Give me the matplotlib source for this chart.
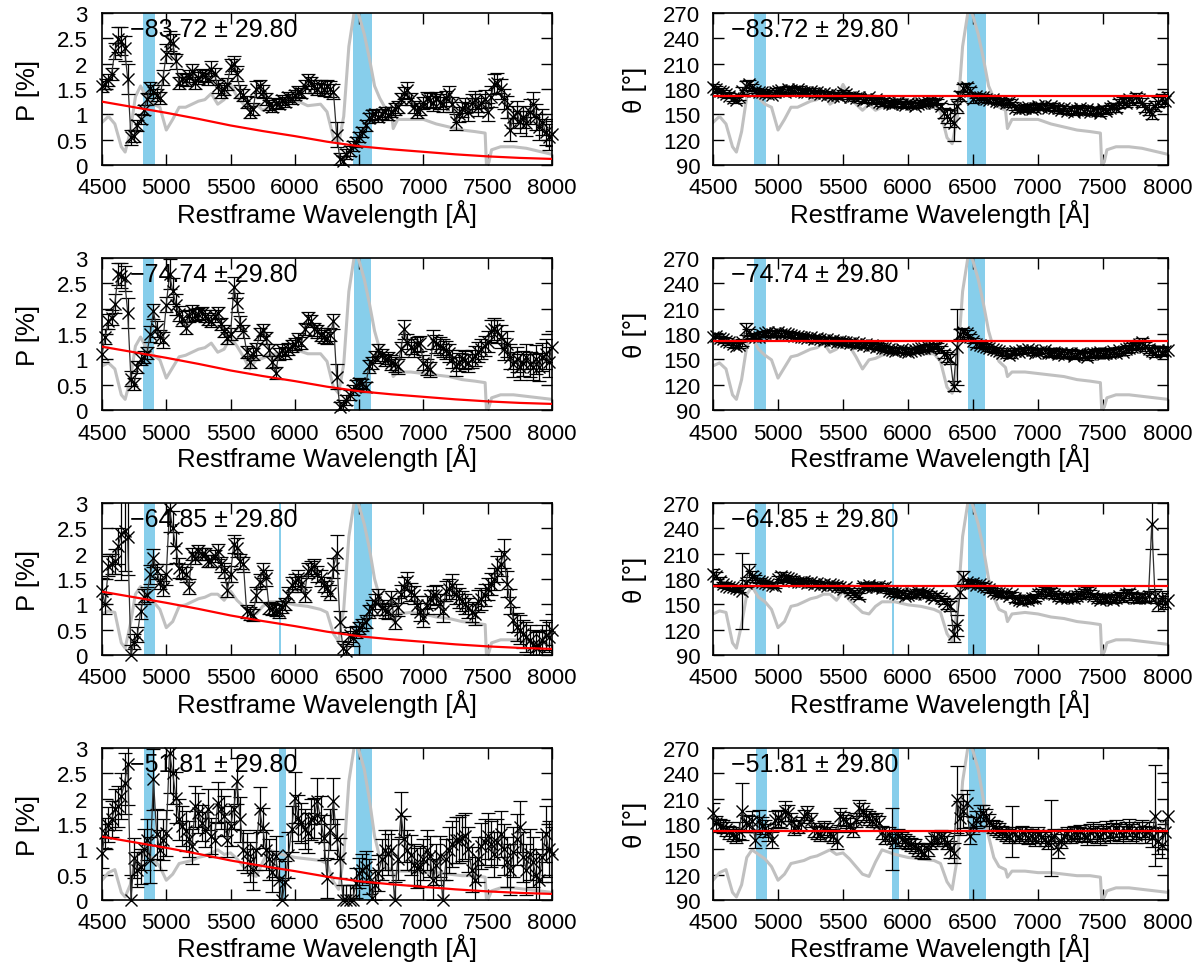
import numpy as np
import matplotlib
matplotlib.use('Agg')
import matplotlib.pyplot as plt

plt.rcParams['font.family'] = ['Liberation Sans', 'DejaVu Sans']

# wavelength bins (25 A)
wave = np.arange(4500, 8001, 25)

# polarisation degree P [%] per epoch
p1 = [1.55,1.60,1.68,1.80,2.25,2.48,2.45,2.30,1.70,0.55,
      0.58,0.78,0.90,1.08,1.30,1.52,1.45,1.38,1.32,1.72,
      2.20,2.45,2.40,2.05,1.62,1.70,1.68,1.75,1.85,1.62,
      1.72,1.78,1.75,1.70,1.90,1.80,1.55,1.45,1.50,1.60,
      1.95,2.00,1.80,1.45,1.38,1.25,1.05,1.10,1.50,1.55,
      1.45,1.30,1.18,1.15,1.22,1.20,1.28,1.25,1.35,1.30,
      1.38,1.45,1.42,1.55,1.68,1.62,1.55,1.50,1.55,1.48,
      1.55,1.50,1.45,0.60,0.12,0.08,0.22,0.28,0.38,0.45,
      0.55,0.65,0.78,0.92,0.98,1.00,0.95,1.00,1.05,0.98,
      1.05,1.10,1.15,1.30,1.42,1.48,1.30,1.15,1.05,1.10,
      1.22,1.30,1.28,1.22,1.30,1.25,1.20,1.32,1.40,1.20,
      0.85,1.00,1.10,1.18,1.05,1.22,1.28,1.15,1.22,1.30,
      1.05,1.35,1.60,1.62,1.50,1.30,1.15,0.70,0.95,1.05,
      0.85,0.95,0.82,1.05,1.20,0.95,0.75,0.85,0.65,0.55,
      0.62]
p1_err = [0.10,0.10,0.12,0.12,0.15,0.25,0.28,0.25,0.30,0.15,
          0.12,0.10,0.10,0.10,0.12,0.12,0.12,0.12,0.12,0.15,
          0.18,0.20,0.18,0.15,0.12,0.12,0.12,0.12,0.15,0.12,
          0.12,0.12,0.12,0.12,0.15,0.12,0.12,0.12,0.12,0.12,
          0.15,0.15,0.15,0.12,0.12,0.12,0.12,0.12,0.15,0.12,
          0.12,0.12,0.10,0.10,0.10,0.10,0.10,0.10,0.10,0.10,
          0.10,0.10,0.10,0.12,0.12,0.12,0.12,0.12,0.12,0.12,
          0.12,0.15,0.15,0.25,0.12,0.10,0.10,0.10,0.10,0.10,
          0.10,0.10,0.10,0.10,0.10,0.10,0.10,0.10,0.10,0.10,
          0.10,0.12,0.12,0.12,0.12,0.15,0.12,0.12,0.12,0.12,
          0.12,0.15,0.15,0.15,0.15,0.15,0.15,0.15,0.15,0.15,
          0.15,0.15,0.15,0.15,0.18,0.18,0.18,0.18,0.18,0.18,
          0.18,0.20,0.20,0.20,0.20,0.20,0.22,0.22,0.22,0.22,
          0.22,0.22,0.25,0.25,0.25,0.25,0.25,0.25,0.25,0.25,
          0.25]

p2 = [1.10,1.45,1.75,1.82,2.10,2.68,2.65,2.60,1.92,0.62,
      0.52,0.85,1.00,1.05,1.12,1.50,1.95,1.60,1.45,1.38,
      2.08,2.68,2.35,2.08,1.90,1.80,1.62,1.85,1.95,1.88,
      1.90,1.92,1.85,1.80,1.75,1.85,1.92,1.70,1.56,1.42,
      1.50,2.42,2.12,1.70,1.55,1.15,0.95,1.10,1.20,1.50,
      1.58,1.42,1.18,0.95,0.73,1.10,1.18,1.12,1.20,1.26,
      1.30,1.39,1.32,1.60,1.82,1.75,1.59,1.55,1.49,1.45,
      1.42,1.49,1.75,0.66,0.05,0.10,0.20,0.30,0.40,0.50,
      0.53,0.52,0.46,0.86,0.93,1.05,1.19,1.08,0.99,1.02,
      0.93,0.90,0.86,1.20,1.59,1.35,1.25,1.19,1.30,1.32,
      0.93,0.85,0.80,1.39,1.30,1.26,1.22,1.19,1.13,1.00,
      0.86,0.95,1.00,0.98,0.93,1.00,1.06,1.15,1.20,1.26,
      1.35,1.56,1.60,1.55,1.45,1.20,1.30,1.05,0.90,1.00,
      0.85,0.92,1.05,0.90,0.85,1.00,0.85,1.05,1.10,0.95,
      1.25]
p2_err = [0.15,0.15,0.15,0.15,0.18,0.22,0.25,0.25,0.30,0.15,
          0.12,0.12,0.12,0.12,0.12,0.15,0.15,0.15,0.12,0.15,
          0.15,0.30,0.25,0.20,0.15,0.15,0.12,0.12,0.12,0.12,
          0.12,0.12,0.12,0.12,0.12,0.12,0.12,0.12,0.12,0.12,
          0.12,0.20,0.18,0.15,0.12,0.12,0.12,0.12,0.12,0.12,
          0.12,0.12,0.12,0.12,0.12,0.12,0.12,0.12,0.12,0.12,
          0.12,0.12,0.12,0.12,0.12,0.12,0.12,0.12,0.12,0.12,
          0.12,0.12,0.15,0.25,0.10,0.10,0.10,0.10,0.10,0.10,
          0.10,0.10,0.10,0.12,0.12,0.12,0.12,0.12,0.12,0.12,
          0.15,0.15,0.15,0.15,0.18,0.15,0.15,0.15,0.15,0.15,
          0.15,0.15,0.15,0.18,0.18,0.18,0.18,0.18,0.18,0.18,
          0.18,0.18,0.18,0.18,0.18,0.18,0.20,0.20,0.20,0.20,
          0.20,0.22,0.22,0.22,0.22,0.22,0.25,0.25,0.25,0.25,
          0.25,0.25,0.25,0.25,0.25,0.28,0.28,0.28,0.30,0.30,
          0.30]

p3 = [1.26,1.00,1.75,1.80,1.85,2.15,2.38,2.45,2.32,0.00,
      0.26,0.40,0.86,1.15,1.19,1.59,1.92,1.65,1.45,1.32,
      1.59,2.88,2.50,2.12,1.72,1.65,1.59,1.35,1.99,1.92,
      2.05,2.00,1.99,1.85,1.85,1.95,2.05,1.79,1.66,1.29,
      1.60,2.19,2.12,1.85,1.79,0.86,0.82,0.79,1.19,1.45,
      1.66,1.52,0.93,0.90,0.88,0.86,0.95,1.00,1.19,1.39,
      1.45,1.52,1.40,1.19,1.66,1.70,1.75,1.60,1.52,1.39,
      1.32,1.23,1.72,2.02,0.66,0.13,0.07,0.40,0.33,0.45,
      0.53,0.60,0.66,0.86,0.93,1.05,1.16,0.93,0.88,0.86,
      1.12,0.66,0.95,1.20,1.35,1.46,1.25,1.19,0.99,0.85,
      0.73,0.99,1.10,1.19,1.19,1.00,0.86,1.26,1.30,1.39,
      1.20,1.12,1.06,1.00,0.93,0.85,0.80,1.06,1.10,1.19,
      1.30,1.40,1.50,1.70,1.80,2.00,1.40,1.05,0.70,0.55,
      0.50,0.42,0.35,0.30,0.20,0.15,0.18,0.30,0.40,0.35,
      0.50]
p3_err = [0.25,0.20,0.20,0.20,0.25,0.35,0.90,0.80,0.75,0.20,
          0.15,0.15,0.15,0.15,0.15,0.18,0.18,0.15,0.15,0.15,
          0.20,0.45,0.35,0.30,0.20,0.15,0.15,0.15,0.12,0.12,
          0.12,0.12,0.12,0.12,0.12,0.12,0.15,0.15,0.15,0.15,
          0.15,0.18,0.18,0.15,0.15,0.12,0.12,0.12,0.15,0.15,
          0.15,0.15,0.12,0.12,0.12,0.12,0.12,0.12,0.15,0.15,
          0.15,0.15,0.15,0.15,0.15,0.15,0.15,0.15,0.15,0.15,
          0.15,0.15,0.20,0.35,0.20,0.15,0.15,0.15,0.15,0.12,
          0.12,0.12,0.12,0.12,0.15,0.15,0.15,0.15,0.15,0.15,
          0.15,0.15,0.18,0.18,0.18,0.18,0.18,0.18,0.18,0.18,
          0.18,0.18,0.18,0.18,0.20,0.20,0.20,0.20,0.20,0.20,
          0.20,0.20,0.20,0.20,0.20,0.20,0.20,0.22,0.22,0.22,
          0.22,0.22,0.22,0.25,0.25,0.28,0.25,0.25,0.25,0.28,
          0.28,0.28,0.30,0.30,0.30,0.30,0.30,0.30,0.30,0.30,
          0.30]

p4 = [0.93,1.32,1.49,1.60,1.79,1.85,2.05,2.30,2.68,0.00,
      0.83,0.60,0.66,1.00,1.19,0.79,2.38,1.30,0.99,1.19,
      1.32,2.91,2.50,2.02,1.59,1.46,1.36,1.20,1.06,1.85,
      1.72,1.52,1.39,1.79,1.26,1.19,1.92,1.80,1.66,1.19,
      1.46,1.80,2.35,1.59,0.99,0.93,0.75,0.60,0.99,1.79,
      1.42,0.99,0.80,0.56,0.86,0.40,0.00,0.36,0.89,1.40,
      2.02,1.62,1.52,1.40,1.32,1.59,1.62,1.95,1.60,1.23,
      0.43,1.39,1.95,1.20,0.83,0.00,0.00,0.00,0.00,0.33,
      0.53,0.60,0.66,0.46,0.03,0.30,0.53,0.80,0.99,0.90,
      0.99,0.00,0.80,1.69,1.20,0.99,0.89,0.70,0.63,0.66,
      0.80,0.99,0.86,0.40,0.70,0.86,0.00,0.80,0.99,1.10,
      1.19,1.19,1.22,1.26,1.00,0.60,0.40,0.80,1.06,1.15,
      1.26,1.10,0.90,1.15,1.30,1.00,0.75,0.60,0.95,1.20,
      1.45,0.85,0.60,0.90,0.75,0.50,0.40,0.85,1.30,1.00,
      0.90]
p4_err = [0.30,0.30,0.35,0.35,0.40,0.40,0.45,0.60,0.80,0.50,
          0.40,0.35,0.35,0.40,0.40,0.45,0.60,0.50,0.40,0.40,
          0.45,0.80,0.60,0.50,0.40,0.40,0.40,0.35,0.35,0.40,
          0.40,0.35,0.35,0.40,0.35,0.35,0.40,0.40,0.40,0.35,
          0.40,0.40,0.45,0.45,0.40,0.40,0.40,0.40,0.40,0.45,
          0.40,0.40,0.40,0.40,0.40,0.40,0.40,0.40,0.45,0.45,
          0.50,0.45,0.40,0.40,0.40,0.40,0.40,0.45,0.45,0.45,
          0.40,0.40,0.45,0.40,0.40,0.30,0.30,0.30,0.30,0.30,
          0.30,0.30,0.30,0.35,0.30,0.30,0.35,0.40,0.40,0.40,
          0.40,0.35,0.40,0.45,0.45,0.40,0.40,0.40,0.40,0.40,
          0.40,0.40,0.40,0.40,0.40,0.40,0.40,0.40,0.45,0.45,
          0.45,0.45,0.45,0.45,0.45,0.45,0.45,0.45,0.45,0.45,
          0.45,0.45,0.45,0.45,0.45,0.50,0.50,0.50,0.50,0.50,
          0.50,0.50,0.50,0.50,0.50,0.50,0.50,0.50,0.55,0.55,
          0.55]

# polarisation angle theta [deg] per epoch
t1 = [182,180,178,176,174,172,169,167,170,178,
      184,186,182,178,176,177,175,174,173,176,
      178,179,177,180,179,178,180,178,177,176,
      178,175,176,174,175,173,174,172,173,171,
      176,174,171,172,169,171,167,168,170,166,
      168,165,163,166,164,162,163,165,162,161,
      163,162,160,162,164,163,165,166,164,165,
      160,152,148,145,140,160,172,181,182,178,
      168,172,170,171,168,167,168,166,165,166,
      164,165,162,158,156,158,157,159,156,158,
      160,159,161,158,160,157,158,155,157,154,
      156,153,155,157,154,156,153,155,154,152,
      156,154,157,160,158,163,166,164,168,166,
      170,168,164,158,155,150,160,165,168,166,
      170]
t1_err = [4,3,3,3,3,3,3,3,3,4,
          5,5,4,3,3,3,3,3,3,3,
          3,3,3,3,3,3,3,3,3,3,
          3,3,3,3,3,3,3,3,3,3,
          3,3,3,3,3,3,3,3,3,3,
          3,3,3,3,3,3,3,3,3,3,
          3,3,3,3,3,3,3,3,3,3,
          4,6,8,10,22,8,6,5,5,4,
          4,3,3,3,3,3,3,3,3,3,
          3,3,3,3,3,3,3,3,3,3,
          3,3,3,3,3,3,3,3,3,4,
          4,4,4,4,4,4,4,4,4,4,
          4,4,4,4,5,5,5,5,5,5,
          5,5,5,5,6,6,6,6,6,6,
          6]

t2 = [176,178,175,174,172,170,168,166,167,170,
      186,182,178,177,176,179,181,182,180,181,
      182,180,181,180,179,178,178,177,176,175,
      176,174,175,174,173,174,172,173,171,172,
      170,171,169,170,168,169,167,168,166,167,
      165,166,164,163,162,161,160,161,162,160,
      159,160,161,162,163,164,165,163,165,166,
      162,156,153,150,118,165,180,182,181,176,
      172,168,167,166,165,163,162,161,160,158,
      157,155,158,160,159,161,160,162,161,158,
      159,160,161,158,157,159,156,158,155,157,
      158,154,156,157,155,153,156,158,157,159,
      156,158,157,160,158,161,159,162,163,165,
      166,168,170,165,162,160,158,161,159,160,
      161]
t2_err = [4,3,3,3,3,3,3,3,3,4,
          7,4,3,3,3,3,3,3,3,3,
          3,3,3,3,3,3,3,3,3,3,
          3,3,3,3,3,3,3,3,3,3,
          3,3,3,3,3,3,3,3,3,3,
          3,3,3,3,3,3,3,3,3,3,
          3,3,3,3,3,3,3,3,3,3,
          4,5,6,6,6,45,6,5,4,4,
          3,3,3,3,3,3,3,3,3,3,
          3,3,3,3,3,3,3,3,3,3,
          3,3,3,4,4,4,4,4,4,4,
          4,4,4,4,4,4,4,4,4,4,
          4,4,4,4,4,4,4,4,4,4,
          4,5,5,5,5,5,5,5,5,5,
          5]

t3 = [186,184,178,174,172,171,170,169,168,166,
      175,190,184,181,178,176,175,174,173,172,
      180,184,182,181,180,178,177,176,178,175,
      176,174,175,173,174,172,174,173,172,170,
      168,170,166,164,162,160,172,171,173,170,
      171,172,169,170,166,165,163,162,164,160,
      161,163,162,165,164,162,163,160,158,161,
      157,154,150,148,115,125,165,182,176,174,
      175,173,174,172,170,168,166,164,163,162,
      163,160,162,157,155,154,156,155,157,158,
      162,164,166,164,165,162,160,158,160,157,
      159,158,160,162,164,166,163,160,158,155,
      157,156,158,155,157,160,158,162,163,160,
      158,157,159,158,160,245,160,150,158,152,
      155]
t3_err = [6,4,4,3,3,3,3,3,3,45,
          4,8,5,4,3,3,3,3,3,3,
          4,4,3,3,3,3,3,3,3,3,
          3,3,3,3,3,3,3,3,3,3,
          3,3,3,3,3,4,3,3,3,3,
          3,3,3,3,3,3,3,3,3,3,
          3,3,3,3,3,3,3,3,3,3,
          3,4,6,6,10,12,8,8,4,4,
          4,3,3,3,3,3,3,3,3,3,
          3,3,3,4,4,4,4,4,4,4,
          4,4,4,4,4,4,4,4,4,4,
          4,4,4,4,4,4,4,4,4,4,
          4,4,4,4,4,5,5,5,5,5,
          5,5,5,5,6,30,8,8,8,8,
          8]

t4 = [193,181,178,177,174,170,168,166,172,195,
      181,180,183,161,185,178,175,170,161,185,
      187,185,195,193,183,175,177,180,189,193,
      185,173,170,168,175,173,168,166,160,189,
      186,183,179,173,185,199,195,190,187,184,
      185,181,170,164,168,162,160,166,162,160,
      158,156,154,150,148,146,150,158,164,162,
      165,162,158,150,146,209,187,195,205,166,
      178,185,190,193,188,182,177,175,173,170,
      168,166,171,168,165,170,168,164,166,162,
      168,165,162,158,163,166,150,160,166,168,
      165,170,168,171,167,165,170,172,168,165,
      170,173,168,171,175,170,168,172,176,170,
      167,172,175,168,172,165,190,160,155,170,
      190]
t4_err = [12,8,8,8,8,8,8,8,10,34,
          10,10,12,10,12,10,10,10,10,10,
          10,10,12,10,10,8,8,8,8,8,
          8,8,8,8,8,8,8,8,10,10,
          8,8,8,8,8,10,10,8,8,8,
          8,8,8,8,8,37,8,8,8,8,
          8,8,8,8,8,8,8,8,8,8,
          8,8,8,10,12,40,20,20,15,10,
          10,10,12,10,10,10,8,8,8,8,
          8,8,30,8,8,8,8,8,8,8,
          8,8,8,8,45,8,10,8,8,8,
          8,8,8,8,8,10,10,10,10,10,
          10,10,10,10,10,10,10,10,10,10,
          10,10,10,10,10,12,60,15,15,15,
          40]

# scaled flux spectrum (fraction of the axis height) per epoch
gray_wave = [4500,4550,4600,4650,4680,4720,4760,4800,4850,4900,4950,5000,5050,5100,
             5150,5200,5250,5300,5350,5400,5450,5500,5550,5600,5650,5700,5750,5800,
             5900,6000,6100,6200,6250,6300,6340,6380,6420,6460,6480,6500,6540,6580,
             6620,6660,6700,6750,6765,6800,6900,7000,7100,7200,7300,7400,7480,7490,
             7510,7530,7600,7700,7800,7900,8000]
gray1 = [.28,.32,.27,.12,.085,.22,.45,.52,.44,.40,.38,.23,.30,.38,
         .38,.40,.42,.43,.47,.40,.43,.53,.45,.40,.36,.40,.36,.38,
         .41,.43,.39,.40,.35,.18,.14,.32,.78,1.0,1.02,.98,.86,.70,
         .52,.44,.38,.36,.24,.30,.30,.30,.27,.25,.23,.22,.21,.0,
         .02,.10,.12,.12,.11,.09,.07]
gray2 = [.29,.31,.27,.10,.07,.20,.42,.48,.40,.36,.33,.21,.28,.35,
         .36,.38,.40,.41,.44,.38,.40,.48,.42,.35,.27,.33,.34,.36,
         .38,.40,.37,.37,.32,.15,.11,.30,.78,1.0,1.02,.98,.86,.70,
         .52,.40,.32,.28,.22,.25,.25,.24,.23,.22,.20,.19,.18,.0,
         .02,.08,.10,.10,.09,.08,.07]
gray3 = [.27,.29,.28,.08,.045,.20,.40,.45,.38,.35,.30,.18,.22,.32,
         .33,.35,.37,.38,.40,.40,.36,.42,.36,.32,.28,.27,.32,.35,
         .35,.33,.32,.30,.28,.14,.09,.30,.78,1.0,1.02,.98,.86,.70,
         .50,.38,.30,.28,.22,.27,.28,.27,.25,.24,.22,.21,.20,.0,
         .02,.08,.10,.10,.09,.08,.07]
gray4 = [.13,.18,.20,.05,.02,.10,.28,.33,.30,.27,.22,.13,.17,.24,
         .25,.26,.28,.29,.31,.33,.30,.31,.27,.22,.17,.155,.25,.33,
         .30,.28,.27,.26,.24,.12,.07,.28,.78,1.0,1.02,.98,.86,.66,
         .42,.28,.22,.20,.15,.19,.19,.18,.18,.17,.16,.16,.15,.0,
         .02,.06,.08,.08,.07,.06,.05]

# interstellar polarisation model
isp_wave = [4500,4750,5000,5250,5500,5750,6000,6250,6500,6750,7000,7250,7500,7750,8000]
isp_p = [1.25,1.14,1.03,0.91,0.78,0.67,0.57,0.46,0.37,0.31,0.26,0.21,0.17,0.14,0.12]
isp_theta = 172

# masked line regions per epoch
bands = [[(4815, 4910), (6455, 6600)],
         [(4815, 4905), (6460, 6595)],
         [(4825, 4910), (5880, 5893), (6462, 6598)],
         [(4830, 4912), (5878, 5933), (6472, 6597)]]

labels = ['\u221283.72 \u00b1 29.80', '\u221274.74 \u00b1 29.80',
          '\u221264.85 \u00b1 29.80', '\u221251.81 \u00b1 29.80']

p_all = [p1, p2, p3, p4]
perr_all = [p1_err, p2_err, p3_err, p4_err]
t_all = [t1, t2, t3, t4]
terr_all = [t1_err, t2_err, t3_err, t4_err]
gray_all = [gray1, gray2, gray3, gray4]


def panel(ax, vals, errs, gray, lo, hi, model_x, model_y, bnds, label, tx):
    for a, b in bnds:
        ax.axvspan(a, b, color='#87ceeb', lw=0, zorder=1)
    ax.plot(gray_wave, lo + np.array(gray) * (hi - lo), color='#c0c0c0', lw=2.2, zorder=2)
    ax.errorbar(wave, vals, yerr=errs, fmt='none', ecolor='black', elinewidth=0.9,
                capsize=5, capthick=0.9, zorder=3)
    ax.plot(wave, vals, color='#303030', lw=0.9, zorder=3)
    ax.plot(wave, vals, 'x', color='black', ms=9, mew=1.0, zorder=4, clip_on=False)
    ax.plot(model_x, model_y, color='red', lw=1.6, zorder=5)
    ax.set_xlim(4500, 8000)
    ax.set_ylim(lo, hi)
    ax.set_xticks(range(4500, 8001, 500))
    ax.tick_params(direction='in', top=True, right=True, length=8, width=1,
                   labelsize=16)
    ax.tick_params(axis='x', pad=9)
    for s in ax.spines.values():
        s.set_linewidth(1.2)
    ax.set_xlabel('Restframe Wavelength [\u00c5]', fontsize=18.5, labelpad=0)
    ax.text(tx, 0.895, label, transform=ax.transAxes, fontsize=18, va='center',
            ha='left', zorder=6)


fig = plt.figure(figsize=(12, 9.7), dpi=100)
rows_top = [14, 259, 504, 749]
for r in range(4):
    bottom = 1 - (rows_top[r] + 152) / 970
    axp = fig.add_axes([102 / 1200, bottom, 450 / 1200, 152 / 970])
    axt = fig.add_axes([713 / 1200, bottom, 455 / 1200, 152 / 970])

    panel(axp, p_all[r], perr_all[r], gray_all[r], 0, 3, isp_wave, isp_p,
          bands[r], labels[r], 0.062)
    axp.set_yticks([0, 0.5, 1, 1.5, 2, 2.5, 3])
    axp.set_yticklabels(['0', '0.5', '1', '1.5', '2', '2.5', '3'])
    axp.tick_params(axis='y', pad=10.5)
    axp.set_ylabel('P [%]', fontsize=18.5, labelpad=12)

    panel(axt, t_all[r], terr_all[r], gray_all[r], 90, 270, [4500, 8000],
          [isp_theta, isp_theta], bands[r], labels[r], 0.04)
    axt.set_yticks(range(90, 271, 30))
    axt.tick_params(axis='y', pad=9)
    axt.set_ylabel('\u03b8 [\u00b0]', fontsize=18.5, labelpad=12)

fig.savefig('out.png', dpi=100)
